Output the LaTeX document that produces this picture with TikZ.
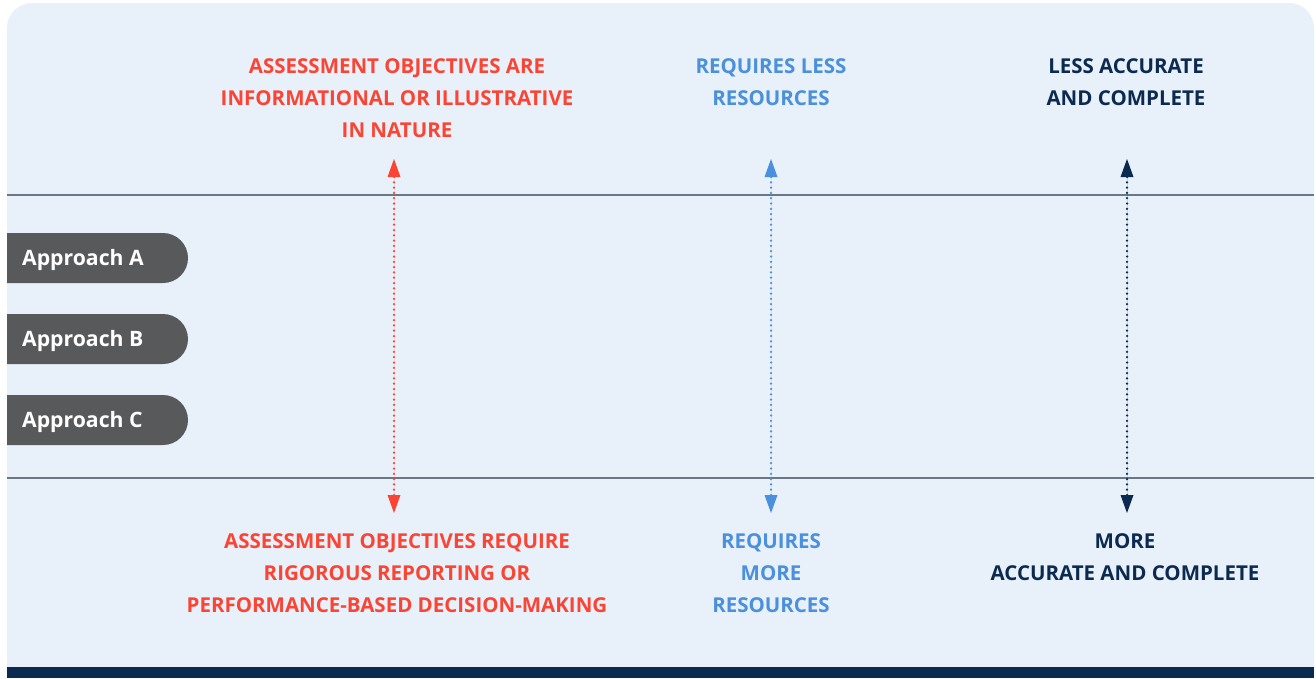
\documentclass[tikz,border=0pt]{standalone}
\usepackage{fontspec}
\setmainfont{Open Sans}
\usetikzlibrary{arrows.meta}
\definecolor{panelbg}{HTML}{E8F0FA}
\definecolor{navy}{HTML}{0B2A4F}
\definecolor{redc}{HTML}{FA4434}
\definecolor{bluec}{HTML}{4A90DC}
\definecolor{pillc}{HTML}{58595B}
\definecolor{rulec}{HTML}{6A7784}
\tikzset{
  lbl/.style={anchor=north, inner sep=0pt, align=center,
    font={\bfseries\fontsize{20.5}{32}\selectfont}},
  pilltext/.style={anchor=west, inner sep=0pt, text=white,
    font={\bfseries\fontsize{21.2}{24}\selectfont}},
  scalearrow/.style={line width=2.5pt, dash pattern=on 0pt off 5.3pt, line cap=round,
    {Triangle[length=18pt,width=13pt,line cap=butt,line width=0pt]}-{Triangle[length=18pt,width=13pt,line cap=butt,line width=0pt]}},
  hrule/.style={draw=rulec, line width=1.3pt}
}
\begin{document}
\begin{tikzpicture}[x=1pt,y=-1pt]
\useasboundingbox (0,0) rectangle (1316,678);
\fill[white] (0,0) rectangle (1316,678);
% panel with rounded top corners (y axis points down)
\fill[panelbg] (7,678) -- (7,28) arc[start angle=180, end angle=270, radius=25] -- (1289,3)
  arc[start angle=-90, end angle=0, radius=25] -- (1314,678) -- cycle;
% footer band
\fill[navy] (7,667) rectangle (1314,678);
% horizontal rules
\coordinate (r1a) at (7,195); \coordinate (r1b) at (1314,195);
\coordinate (r2a) at (7,478); \coordinate (r2b) at (1314,478);
\draw[hrule] (r1a) -- (r1b);
\draw[hrule] (r2a) -- (r2b);
% approach pills
\foreach \n/\y in {A/258, B/339, C/420}{
  \fill[pillc] (7,\y-25) -- (163,\y-25) arc[start angle=-90, end angle=90, radius=25] -- (7,\y+25) -- cycle;
  \node[pilltext] (app\n) at (22,\y+2) {Approach \n};
}
% scale arrows
\coordinate (redtop) at (394,159); \coordinate (redbot) at (394,513);
\coordinate (bluetop) at (771,159); \coordinate (bluebot) at (771,513);
\coordinate (navytop) at (1127,159); \coordinate (navybot) at (1127,513);
\draw[scalearrow, draw=redc, fill=redc] (redtop) -- (redbot);
\draw[scalearrow, draw=bluec, fill=bluec] (bluetop) -- (bluebot);
\draw[scalearrow, draw=navy, fill=navy] (navytop) -- (navybot);
% labels
\node[lbl, text=redc] (redhi) at (397,58) {ASSESSMENT OBJECTIVES ARE\\INFORMATIONAL OR ILLUSTRATIVE\\IN NATURE};
\node[lbl, text=bluec] (bluehi) at (771,58) {REQUIRES LESS\\RESOURCES};
\node[lbl, text=navy] (navyhi) at (1126,58) {LESS ACCURATE\\AND COMPLETE};
\node[lbl, text=redc] (redlo) at (397,533) {ASSESSMENT OBJECTIVES REQUIRE\\RIGOROUS REPORTING OR\\PERFORMANCE-BASED DECISION-MAKING};
\node[lbl, text=bluec] (bluelo) at (771,533) {REQUIRES\\MORE\\RESOURCES};
\node[lbl, text=navy] (navylo) at (1125,533) {MORE\\ACCURATE AND COMPLETE};
\end{tikzpicture}
\end{document}
